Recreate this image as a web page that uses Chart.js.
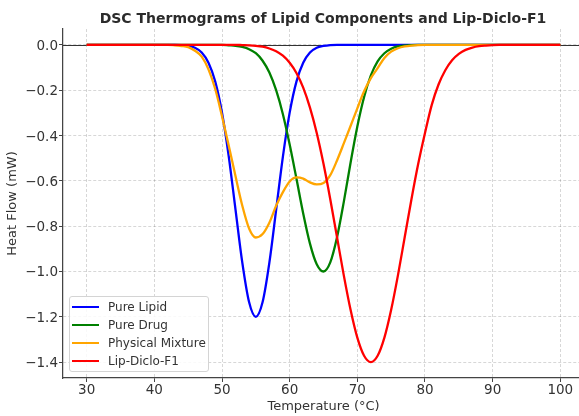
<!DOCTYPE html>
<html>
<head>
<meta charset="utf-8">
<title>DSC Thermograms</title>
<script src="https://cdn.jsdelivr.net/npm/chart.js@4.4.1/dist/chart.umd.min.js"></script>
<style>
  html, body { margin: 0; padding: 0; overflow: hidden; background: #fff; }
  #wrap { position: relative; width: 584px; height: 416px; }
  #title {
    position: absolute; left: 63px; top: 10px; width: 520px;
    text-align: center; font: bold 14px "DejaVu Sans", sans-serif;
    line-height: 16px; color: #2b2b2b; white-space: nowrap;
  }
  #legend {
    position: absolute; left: 69px; top: 296px; width: 140px; height: 76px;
    box-sizing: border-box; padding-top: 1px;
    border: 1px solid #d4d4d4; border-radius: 3px;
    background: rgba(255, 255, 255, 0.85);
    font: 12px "DejaVu Sans", sans-serif; color: #333;
  }
  .row { display: flex; align-items: center; height: 18px; }
  .swatch { width: 27px; height: 2px; margin-left: 2px; margin-right: 9px; }
</style>
</head>
<body>
<div id="wrap">
  <canvas id="chart" width="584" height="416"></canvas>
  <div id="title">DSC Thermograms of Lipid Components and Lip-Diclo-F1</div>
  <div id="legend"></div>
</div>
<script>
// temperature (°C), one point per degree
const temps = [30, 31, 32, 33, 34, 35, 36, 37, 38, 39,
  40, 41, 42, 43, 44, 45, 46, 47, 48, 49,
  50, 51, 52, 53, 54, 55, 56, 57, 58, 59,
  60, 61, 62, 63, 64, 65, 66, 67, 68, 69,
  70, 71, 72, 73, 74, 75, 76, 77, 78, 79,
  80, 81, 82, 83, 84, 85, 86, 87, 88, 89,
  90, 91, 92, 93, 94, 95, 96, 97, 98, 99, 100];

// heat flow (mW)
const pureLipid = [0, 0, 0, 0, 0, 0, 0, 0, 0, 0,
  0, 0, 0, 0, -0.001, -0.005, -0.013, -0.034, -0.079, -0.162,
  -0.299, -0.493, -0.728, -0.961, -1.135, -1.2, -1.135, -0.961, -0.728, -0.493,
  -0.299, -0.162, -0.079, -0.034, -0.013, -0.005, -0.001, 0, 0, 0,
  0, 0, 0, 0, 0, 0, 0, 0, 0, 0,
  0, 0, 0, 0, 0, 0, 0, 0, 0, 0,
  0, 0, 0, 0, 0, 0, 0, 0, 0, 0, 0];

const pureDrug = [0, 0, 0, 0, 0, 0, 0, 0, 0, 0,
  0, 0, 0, 0, 0, 0, 0, 0, 0, 0,
  0, -0.002, -0.004, -0.009, -0.019, -0.037, -0.07, -0.122, -0.2, -0.306,
  -0.44, -0.59, -0.744, -0.877, -0.968, -1.0, -0.96, -0.849, -0.693, -0.52,
  -0.36, -0.23, -0.135, -0.073, -0.037, -0.017, -0.007, -0.003, -0.001, 0,
  0, 0, 0, 0, 0, 0, 0, 0, 0, 0,
  0, 0, 0, 0, 0, 0, 0, 0, 0, 0, 0];

const physicalMixture = [0, 0, 0, 0, 0, 0, 0, 0, 0, 0,
  0, 0, 0, -0.002, -0.005, -0.01, -0.026, -0.052, -0.108, -0.195,
  -0.315, -0.445, -0.58, -0.71, -0.81, -0.85, -0.835, -0.785, -0.71, -0.65,
  -0.603, -0.585, -0.59, -0.607, -0.616, -0.61, -0.575, -0.51, -0.435, -0.358,
  -0.28, -0.205, -0.147, -0.103, -0.058, -0.03, -0.015, -0.007, -0.003, -0.001,
  0, 0, 0, 0, 0, 0, 0, 0, 0, 0,
  0, 0, 0, 0, 0, 0, 0, 0, 0, 0, 0];

const lipDicloF1 = [0, 0, 0, 0, 0, 0, 0, 0, 0, 0,
  0, 0, 0, 0, 0, 0, 0, 0, 0, 0,
  0, 0, 0, -0.001, -0.002, -0.004, -0.008, -0.016, -0.028, -0.048,
  -0.079, -0.124, -0.189, -0.277, -0.389, -0.525, -0.681, -0.849, -1.017, -1.169,
  -1.292, -1.372, -1.4, -1.372, -1.292, -1.169, -1.017, -0.849, -0.681, -0.525,
  -0.389, -0.265, -0.175, -0.112, -0.068, -0.04, -0.022, -0.012, -0.006, -0.003,
  -0.001, 0, 0, 0, 0, 0, 0, 0, 0, 0, 0];

const seriesNames = ['Pure Lipid', 'Pure Drug', 'Physical Mixture', 'Lip-Diclo-F1'];
const seriesColors = ['#0000ff', '#008000', '#ffa500', '#ff0000'];
const seriesValues = [pureLipid, pureDrug, physicalMixture, lipDicloF1];

const xTicks = [30, 40, 50, 60, 70, 80, 90, 100];
const yTicks = [-1.4, -1.2, -1.0, -0.8, -0.6, -0.4, -0.2, 0.0];

const FONT = '"DejaVu Sans", sans-serif';
const TEXT = '#333';
const SPINE = '#444';

// linea horizontal en y = 0 (debajo de las curvas)
const zeroLine = {
  id: 'zeroLine',
  beforeDatasetsDraw(chart) {
    const { ctx, chartArea, scales } = chart;
    const y = Math.round(scales.y.getPixelForValue(0)) + 0.5;
    ctx.save();
    ctx.strokeStyle = '#333';
    ctx.lineWidth = 1.2;
    ctx.beginPath();
    ctx.moveTo(chartArea.left, y);
    ctx.lineTo(chartArea.right, y);
    ctx.stroke();
    ctx.restore();
  }
};

const datasets = seriesNames.map((name, i) => ({
  label: name,
  data: temps.map((t, j) => ({ x: t, y: seriesValues[i][j] })),
  borderColor: seriesColors[i],
  backgroundColor: seriesColors[i],
  borderWidth: 2.3,
  pointRadius: 0,
  fill: false,
  cubicInterpolationMode: 'monotone',
  order: seriesNames.length - i   // la última serie queda encima
}));

const gridOpts = {
  color: 'rgba(0,0,0,0.2)',
  lineWidth: 0.8,
  tickLength: 4,
  tickColor: SPINE,
  tickWidth: 1,
  tickBorderDash: []
};

new Chart(document.getElementById('chart'), {
  type: 'line',
  data: { datasets },
  plugins: [zeroLine],
  options: {
    responsive: false,
    animation: false,
    devicePixelRatio: 1,
    layout: { padding: { top: 29, left: 0, right: 0, bottom: 0 } },
    plugins: {
      legend: { display: false },
      tooltip: { enabled: false }
    },
    scales: {
      x: {
        type: 'linear',
        min: 26.5,
        max: 103.5,
        afterFit: (scale) => { scale.height = 38; },
        afterBuildTicks: (scale) => { scale.ticks = xTicks.map(v => ({ value: v })); },
        grid: gridOpts,
        border: { display: true, color: SPINE, width: 1.25, dash: [3, 2] },
        ticks: {
          padding: 0,
          color: TEXT,
          font: { family: FONT, size: 13.5 },
          maxRotation: 0,
          callback: (v) => String(v)
        },
        title: {
          display: true,
          text: 'Temperature (°C)',
          color: TEXT,
          font: { family: FONT, size: 13 },
          padding: { top: 0, bottom: 2 }
        }
      },
      y: {
        type: 'linear',
        min: -1.47,
        max: 0.07,
        afterFit: (scale) => { scale.width = 63; },
        afterBuildTicks: (scale) => { scale.ticks = yTicks.map(v => ({ value: v })); },
        grid: gridOpts,
        border: { display: true, color: SPINE, width: 1.25, dash: [3, 2] },
        ticks: {
          padding: 1,
          labelOffset: 1.5,
          color: TEXT,
          font: { family: FONT, size: 13.5 },
          callback: (v) => v.toFixed(1).replace('-', '\u2212')
        },
        title: {
          display: true,
          text: 'Heat Flow (mW)',
          color: TEXT,
          font: { family: FONT, size: 13 },
          padding: { top: 5, bottom: 0 }
        }
      }
    }
  }
});

// leyenda en la esquina inferior izquierda
const legend = document.getElementById('legend');
seriesNames.forEach((name, i) => {
  const row = document.createElement('div');
  row.className = 'row';
  const sw = document.createElement('span');
  sw.className = 'swatch';
  sw.style.background = seriesColors[i];
  const label = document.createElement('span');
  label.textContent = name;
  row.appendChild(sw);
  row.appendChild(label);
  legend.appendChild(row);
});
</script>
</body>
</html>
